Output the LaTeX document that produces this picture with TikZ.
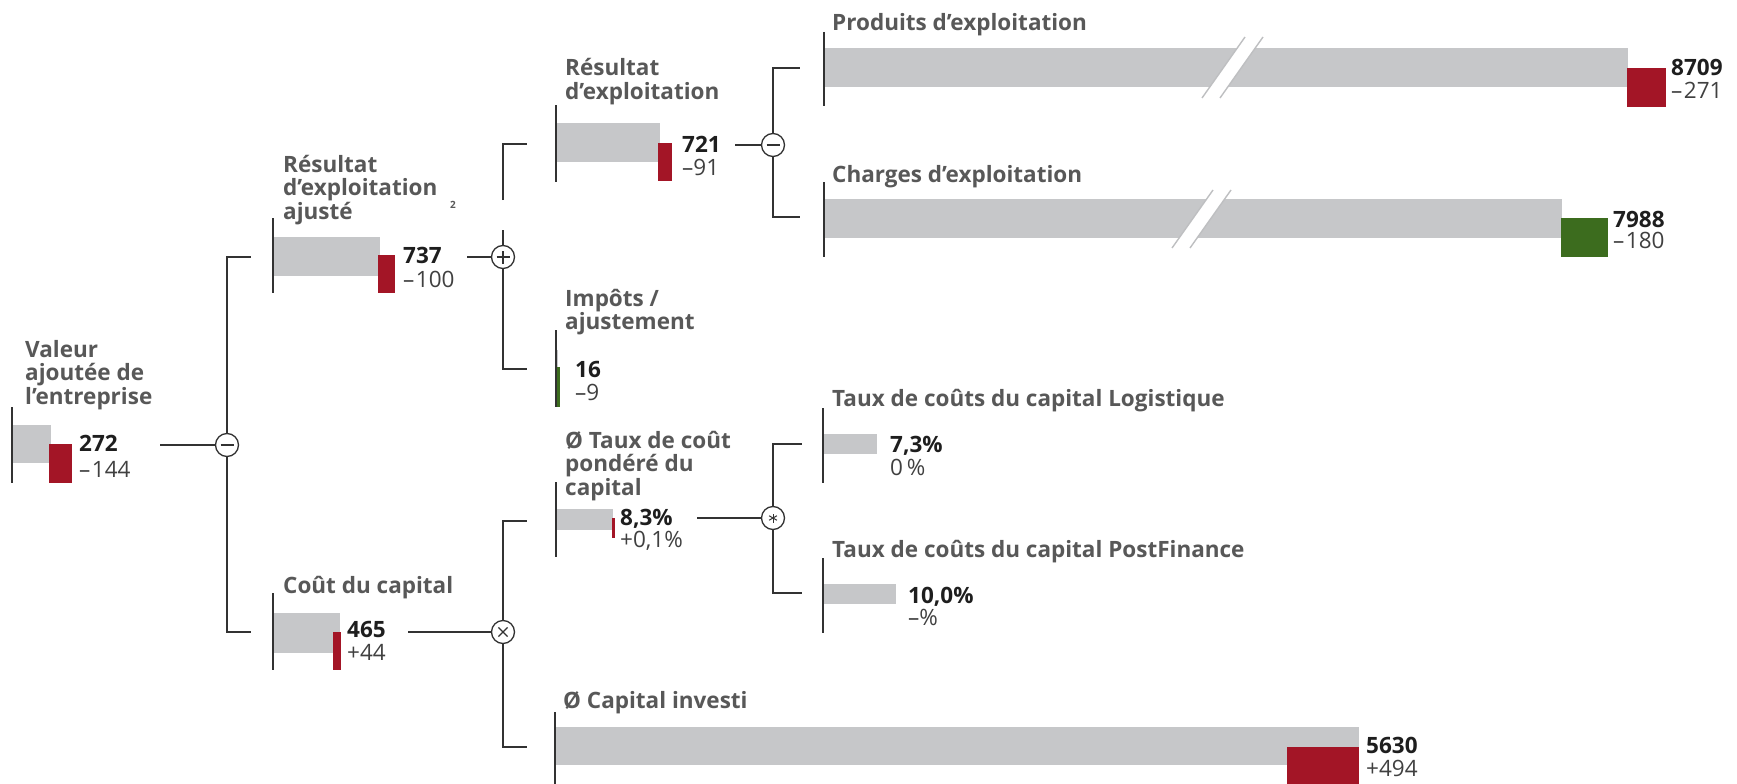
\documentclass[tikz,border=0pt]{standalone}
\usepackage{fontspec}
\setmainfont{Open Sans}
\definecolor{barGray}{RGB}{198,199,201}
\definecolor{barRed}{RGB}{163,21,38}
\definecolor{barGreen}{RGB}{60,108,30}
\definecolor{ttlGray}{RGB}{88,88,88}
\definecolor{numDark}{RGB}{30,30,30}
\definecolor{lineC}{RGB}{50,50,50}
\definecolor{brkGray}{RGB}{190,191,193}
\newcommand\ttlfont{\fontsize{22.5}{22}\selectfont\bfseries}
\newcommand\numfont{\fontsize{22.5}{22}\selectfont}
\newcommand\mdash{–\kern1.5pt}
\begin{document}
\begin{tikzpicture}[x=1pt,y=-1pt,
  ttl/.style={anchor=base west,inner sep=0pt,text=ttlGray,font=\ttlfont},
  valb/.style={anchor=base west,inner sep=0pt,text=numDark,font=\numfont\bfseries},
  vald/.style={anchor=base west,inner sep=0pt,text=numDark!85,font=\numfont},
  axisln/.style={draw=lineC,line width=1.8pt},
  treeln/.style={draw=lineC,line width=1.5pt},
  gbar/.style={fill=barGray},
  rbar/.style={fill=barRed},
  vbar/.style={fill=barGreen},
  opnode/.style={circle,draw=lineC,line width=1.3pt,fill=white,minimum size=23pt,inner sep=0pt},
  sym/.style={draw=lineC,line width=1.3pt},
  brk/.style={draw=brkGray,line width=1.4pt}]
\useasboundingbox (0,0) rectangle (1737,784);

% ---------- Node A : Valeur ajoutee ----------
\fill[gbar] (12,425) rectangle (51,463);
\fill[rbar] (49,444) rectangle (72,483);
\draw[axisln] (12,407) -- (12,483);
\node[ttl] (tA) at (25,357) {\begin{tabular}[t]{@{}l@{}}Valeur\\ajoutée de\\l’entreprise\end{tabular}};
\node[valb] (vA) at (79,451) {272};
\node[vald] (dA) at (79,477) {\mdash 144};

% ---------- Node B : Resultat d'exploitation ajuste ----------
\fill[gbar] (273,237) rectangle (380,276);
\fill[rbar] (378,255) rectangle (395,293);
\draw[axisln] (273,218) -- (273,293);
\node[ttl] (tB) at (283,172) {\begin{tabular}[t]{@{}l@{}}Résultat\\d’exploitation\\ajusté\end{tabular}};
\node[anchor=base west,inner sep=0pt,text=ttlGray,font=\fontsize{10}{10}\selectfont\bfseries] (supB) at (450,208) {2};
\node[valb] (vB) at (403,263) {737};
\node[vald] (dB) at (403,287) {\mdash 100};

% ---------- Node C : Resultat d'exploitation ----------
\fill[gbar] (556,123) rectangle (660,162);
\fill[rbar] (658,143) rectangle (672,181);
\draw[axisln] (556,105) -- (556,182);
\node[ttl] (tC) at (565,76) {\begin{tabular}[t]{@{}l@{}}Résultat\\d’exploitation\end{tabular}};
\node[valb] (vC) at (682,152) {721};
\node[vald] (dC) at (682,175) {–91};

% ---------- Node D : Produits d'exploitation ----------
\fill[gbar] (824,48) rectangle (1628,87);
\fill[white] (1202,98) -- (1245,37) -- (1263,37) -- (1220,98) -- cycle;
\draw[brk] (1202,98) -- (1245,37);
\draw[brk] (1220,98) -- (1263,37);
\fill[rbar] (1627,68) rectangle (1666,107);
\draw[axisln] (824,32) -- (824,106);
\node[ttl] (tD) at (832,31) {Produits d’exploitation};
\node[valb] (vD) at (1671,76) {8709};
\node[vald] (dD) at (1671,98) {\mdash 271};

% ---------- Node E : Charges d'exploitation ----------
\fill[gbar] (824,199) rectangle (1562,238);
\fill[white] (1172,248) -- (1213,190) -- (1231,190) -- (1190,248) -- cycle;
\draw[brk] (1172,248) -- (1213,190);
\draw[brk] (1190,248) -- (1231,190);
\fill[vbar] (1561,218) rectangle (1608,257);
\draw[axisln] (824,182) -- (824,257);
\node[ttl] (tE) at (832,182) {Charges d’exploitation};
\node[valb] (vE) at (1613,227) {7988};
\node[vald] (dE) at (1613,248) {\mdash 180};

% ---------- Node F : Impots / ajustement ----------
\fill[gbar] (556,350) rectangle (558,368);
\fill[vbar] (556,367) rectangle (560,407);
\draw[axisln] (556,330) -- (556,407);
\node[ttl] (tF) at (565,306) {\begin{tabular}[t]{@{}l@{}}Impôts /\\ajustement\end{tabular}};
\node[valb] (vF) at (575,377) {16};
\node[vald] (dF) at (575,400) {–9};

% ---------- Node G : Taux de cout pondere ----------
\fill[gbar] (556,509) rectangle (613,530);
\fill[rbar] (612,518) rectangle (614.5,538);
\draw[axisln] (556,482) -- (556,557);
\node[ttl] (tG) at (565,448) {\begin{tabular}[t]{@{}l@{}}Ø Taux de coût\\pondéré du\\capital\end{tabular}};
\node[valb] (vG) at (620,525) {8,3\%};
\node[vald] (dG) at (620,547) {+0,1\%};

% ---------- Node H : Cout du capital ----------
\fill[gbar] (273,613) rectangle (340,653);
\fill[rbar] (333,632) rectangle (341,670);
\draw[axisln] (273,593) -- (273,670);
\node[ttl] (tH) at (283,593) {Coût du capital};
\node[valb] (vH) at (347,637) {465};
\node[vald] (dH) at (347,660) {+44};

% ---------- Node I : Capital investi ----------
\fill[gbar] (555,727) rectangle (1359,765);
\fill[rbar] (1287,747) rectangle (1359,784);
\draw[axisln] (555,712) -- (555,784);
\node[ttl] (tI) at (563,708) {Ø Capital investi};
\node[valb] (vI) at (1366,753) {5630};
\node[vald] (dI) at (1366,776) {+494};

% ---------- Node J : Logistique ----------
\fill[gbar] (823,434) rectangle (877,454);
\draw[axisln] (823,408) -- (823,483);
\node[ttl] (tJ) at (832,406) {Taux de coûts du capital Logistique};
\node[valb] (vJ) at (890,452) {7,3\%};
\node[vald] (dJ) at (890,475) {0\,\%};

% ---------- Node K : PostFinance ----------
\fill[gbar] (823,584) rectangle (896,604);
\draw[axisln] (823,558) -- (823,633);
\node[ttl] (tK) at (832,557) {Taux de coûts du capital PostFinance};
\node[valb] (vK) at (908,603) {10,0\%};
\node[vald] (dK) at (908,625) {–\%};

% ---------- connector end points ----------
\coordinate (aOut) at (160,445);
\coordinate (bOut) at (467,257);
\coordinate (cOut) at (735,145);
\coordinate (gOut) at (697,518);
\coordinate (hOut) at (408,632);
\coordinate (bIn) at (251,257);
\coordinate (hIn) at (251,632);
\coordinate (cIn) at (527,144);
\coordinate (fIn) at (527,369);
\coordinate (dIn) at (800,68);
\coordinate (eIn) at (800,217);
\coordinate (gIn) at (527,521);
\coordinate (iIn) at (527,747);
\coordinate (jIn) at (802,444);
\coordinate (kIn) at (802,593);
\coordinate (bGapLo) at (503,230);
\coordinate (bGapHi) at (503,200);

% ---------- operator circles ----------
\node[opnode] (opA) at (227,445) {};
\node[opnode] (opB) at (503,257) {};
\node[opnode] (opC) at (773,145) {};
\node[opnode] (opH) at (503,632) {};
\node[opnode] (opG) at (773,518) {};

\draw[sym] ([xshift=-6.5pt]opA.center) -- ([xshift=6.5pt]opA.center);
\draw[sym] ([xshift=-6.5pt]opB.center) -- ([xshift=6.5pt]opB.center);
\draw[sym] ([yshift=-6.5pt]opB.center) -- ([yshift=6.5pt]opB.center);
\draw[sym] ([xshift=-6.5pt]opC.center) -- ([xshift=6.5pt]opC.center);
\draw[sym] ([shift={(-4.6pt,-4.6pt)}]opH.center) -- ([shift={(4.6pt,4.6pt)}]opH.center);
\draw[sym] ([shift={(-4.6pt,4.6pt)}]opH.center) -- ([shift={(4.6pt,-4.6pt)}]opH.center);
\draw[sym,line width=1pt] ([yshift=-4.5pt]opG.center) -- ([yshift=4.5pt]opG.center);
\draw[sym,line width=1pt] ([shift={(-3.9pt,-2.25pt)}]opG.center) -- ([shift={(3.9pt,2.25pt)}]opG.center);
\draw[sym,line width=1pt] ([shift={(-3.9pt,2.25pt)}]opG.center) -- ([shift={(3.9pt,-2.25pt)}]opG.center);

% ---------- connectors ----------
\draw[treeln] (aOut) -- (opA.west);
\draw[treeln] (bOut) -- (opB.west);
\draw[treeln] (cOut) -- (opC.west);
\draw[treeln] (gOut) -- (opG.west);
\draw[treeln] (hOut) -- (opH.west);

\draw[treeln] (opA.north) |- (bIn);
\draw[treeln] (opA.south) |- (hIn);
\draw[treeln] (opB.north) -- (bGapLo);
\draw[treeln] (bGapHi) |- (cIn);
\draw[treeln] (opB.south) |- (fIn);
\draw[treeln] (opC.north) |- (dIn);
\draw[treeln] (opC.south) |- (eIn);
\draw[treeln] (opH.north) |- (gIn);
\draw[treeln] (opH.south) |- (iIn);
\draw[treeln] (opG.north) |- (jIn);
\draw[treeln] (opG.south) |- (kIn);
\end{tikzpicture}
\end{document}
